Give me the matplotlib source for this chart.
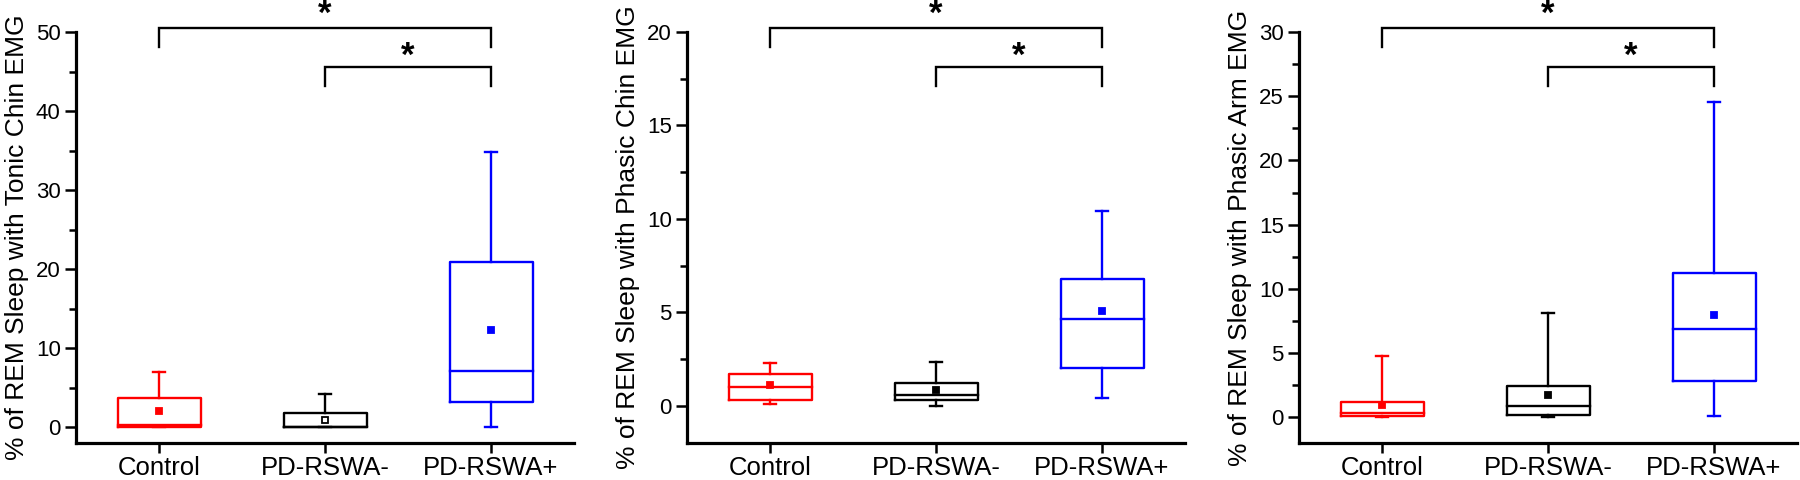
import matplotlib
matplotlib.use("Agg")
import matplotlib.pyplot as plt
from matplotlib.ticker import MultipleLocator, FixedLocator

plt.rcParams['font.family'] = ['Liberation Sans', 'DejaVu Sans']

groups = ["Control", "PD-RSWA-", "PD-RSWA+"]
colors = ["#FF0000", "#000000", "#0000FF"]

# Panel 1: tonic chin EMG
tonic_whislo = [0.0, 0.0, 0.0]
tonic_q1 = [0.0, 0.0, 3.2]
tonic_med = [0.3, 0.05, 7.1]
tonic_q3 = [3.7, 1.8, 20.9]
tonic_whishi = [7.0, 4.25, 34.8]
tonic_mean = [2.0, 0.9, 12.35]

# Panel 2: phasic chin EMG
pchin_whislo = [0.1, 0.0, 0.43]
pchin_q1 = [0.32, 0.29, 2.04]
pchin_med = [0.98, 0.57, 4.66]
pchin_q3 = [1.68, 1.22, 6.79]
pchin_whishi = [2.26, 2.33, 10.4]
pchin_mean = [1.1, 0.85, 5.09]

# Panel 3: phasic arm EMG
parm_whislo = [0.0, 0.0, 0.13]
parm_q1 = [0.12, 0.16, 2.79]
parm_med = [0.33, 0.88, 6.9]
parm_q3 = [1.2, 2.47, 11.22]
parm_whishi = [4.74, 8.1, 24.56]
parm_mean = [0.98, 1.72, 7.97]

ylabels = ["% of REM Sleep with Tonic Chin EMG",
           "% of REM Sleep with Phasic Chin EMG",
           "% of REM Sleep with Phasic Arm EMG"]
ymax = [50, 20, 30]
ystep = [10, 5, 5]

panels = [
    (tonic_whislo, tonic_q1, tonic_med, tonic_q3, tonic_whishi, tonic_mean),
    (pchin_whislo, pchin_q1, pchin_med, pchin_q3, pchin_whishi, pchin_mean),
    (parm_whislo, parm_q1, parm_med, parm_q3, parm_whishi, parm_mean),
]

fig = plt.figure(figsize=(18, 4.8), dpi=100)
lefts = [76 / 1800, 687 / 1800, 1299 / 1800]
W = 498 / 1800
B = 37 / 480
H = 411 / 480

positions = [1, 2, 3]
for p, (wl, q1, md, q3, wh, mn) in enumerate(panels):
    ax = fig.add_axes([lefts[p], B, W, H])
    stats = [dict(whislo=wl[i], q1=q1[i], med=md[i], q3=q3[i], whishi=wh[i],
                  mean=mn[i], label=groups[i]) for i in range(3)]
    bp = ax.bxp(stats, positions=positions, widths=0.5, capwidths=0.075,
                showmeans=True, showfliers=False, manage_ticks=False)
    for i, c in enumerate(colors):
        for art in [bp['boxes'][i], bp['medians'][i],
                    bp['whiskers'][2 * i], bp['whiskers'][2 * i + 1],
                    bp['caps'][2 * i], bp['caps'][2 * i + 1]]:
            art.set_color(c)
            art.set_linewidth(1.7)
            art.set_solid_capstyle('projecting')
        m = bp['means'][i]
        m.set_marker('s')
        m.set_markersize(4)
        m.set_markeredgecolor(c)
        face = 'white' if (p == 0 and i == 1) else c
        m.set_markerfacecolor(face)
        m.set_markeredgewidth(1.3)

    ax.set_xlim(0.5, 3.5)
    ax.set_ylim(-2, ymax[p])
    ax.set_xticks(positions)
    ax.set_xticklabels(groups, fontsize=18.5)
    ax.yaxis.set_major_locator(FixedLocator(list(range(0, ymax[p] + 1, ystep[p]))))
    ax.yaxis.set_minor_locator(MultipleLocator(ystep[p] / 2))
    ax.tick_params(axis='y', which='major', labelsize=16, length=8, width=1.8, pad=3)
    ax.tick_params(axis='y', which='minor', length=5, width=1.8)
    ax.tick_params(axis='x', which='major', length=7.5, width=1.8, pad=2)
    ax.tick_params(axis='x', which='minor', bottom=False)
    ax.spines['top'].set_visible(False)
    ax.spines['right'].set_visible(False)
    for s in ['left', 'bottom']:
        ax.spines[s].set_linewidth(2.3)
    ax.set_ylabel(ylabels[p], fontsize=19, labelpad=5)

    tr = ax.get_xaxis_transform()
    # significance brackets
    for (x0, x1, ytop, ybot, ystar) in [(1, 3, 1.0097, 0.9635, 1.042),
                                        (2, 3, 0.9148, 0.8686, 0.94)]:
        ax.plot([x0, x0, x1, x1], [ybot, ytop, ytop, ybot], color='black',
                lw=1.7, transform=tr, clip_on=False, solid_joinstyle='miter')
        ax.text((x0 + x1) / 2, ystar, '*', transform=tr, ha='center',
                va='center', fontsize=25, fontweight='bold')

fig.savefig("out.png", dpi=100)
